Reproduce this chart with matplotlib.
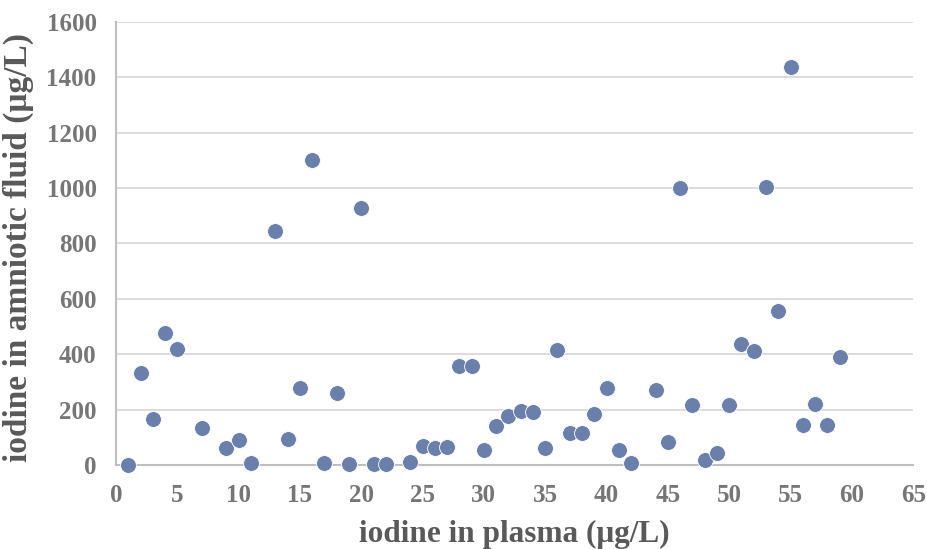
import matplotlib
matplotlib.use("Agg")
import matplotlib.pyplot as plt

# iodine in plasma (µg/L)
plasma = [1, 2, 3, 4, 5, 7, 9, 10, 11, 13, 14, 15, 16, 17, 18, 19, 20, 21, 22,
          24, 25, 26, 27, 28, 29, 30, 31, 32, 33, 34, 35, 36, 37, 38, 39, 40,
          41, 42, 44, 45, 46, 47, 48, 49, 50, 51, 52, 53, 54, 55, 56, 57, 58, 59]
# iodine in amniotic fluid (µg/L)
amniotic = [0, 332, 166, 477, 419, 134, 61, 90, 7, 845, 94, 278, 1101, 7, 260,
            4, 928, 4, 4, 11, 69, 61, 65, 357, 357, 54, 141, 177, 195, 191, 61,
            415, 116, 116, 184, 278, 54, 7, 271, 83, 1000, 217, 18, 43, 217,
            437, 412, 1004, 556, 1437, 144, 220, 144, 390]

x_ticks = list(range(0, 70, 5))
y_ticks = list(range(0, 1800, 200))

plt.rcParams['font.family'] = ['Liberation Serif', 'DejaVu Serif']

fig = plt.figure(figsize=(9.28, 5.49), dpi=100)
ax = fig.add_axes([0.125, 0.153, 0.859, 0.807])

ax.scatter(plasma, amniotic, s=130, color='#6a80aa', edgecolors='white',
           linewidths=0.6, zorder=3, clip_on=False)

ax.set_xlim(0, 65)
ax.set_ylim(0, 1600)
ax.set_xticks(x_ticks)
ax.set_yticks(y_ticks)
ax.tick_params(length=0, labelsize=18, labelcolor='#767676')
ax.tick_params(axis='x', pad=14)
ax.tick_params(axis='y', pad=14)
for lbl in ax.get_xticklabels() + ax.get_yticklabels():
    lbl.set_fontweight('bold')

ax.yaxis.grid(True, color='#d9d9d9', linewidth=1.3)
ax.set_axisbelow(True)
for side in ['top', 'right']:
    ax.spines[side].set_visible(False)
for side in ['left', 'bottom']:
    ax.spines[side].set_color('#bfbfbf')
    ax.spines[side].set_linewidth(1.5)

ax.set_xlabel('iodine in plasma (μg/L)', fontsize=22.5, fontweight='bold',
              color='#595959', labelpad=9)
ax.set_ylabel('iodine in amniotic fluid (μg/L)', fontsize=24, fontweight='bold',
              color='#595959', labelpad=4)
ax.yaxis.set_label_coords(-0.103, 0.49)

fig.savefig('out.png', dpi=100)
